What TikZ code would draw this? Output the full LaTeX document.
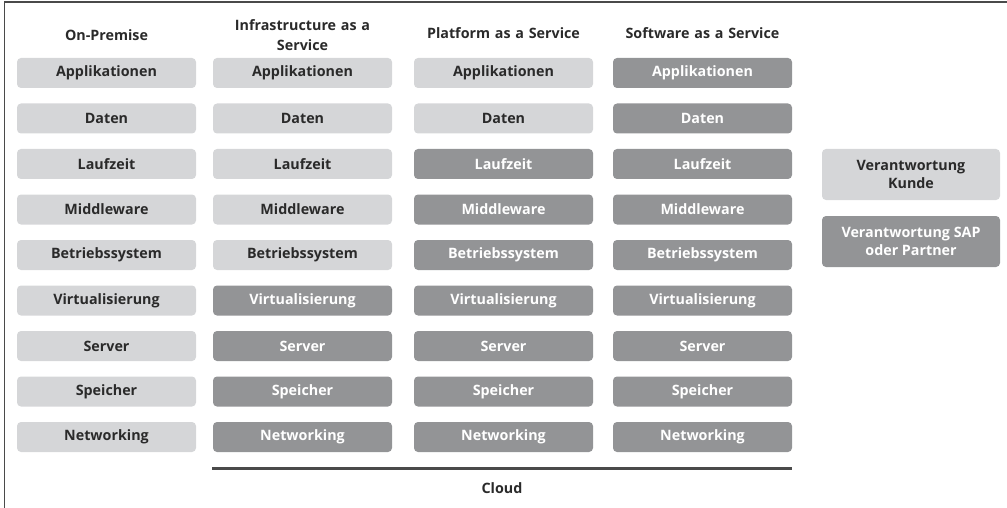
\documentclass[tikz,border=0pt]{standalone}
\usepackage{fontspec}
\setmainfont{Open Sans}
\definecolor{lightbox}{HTML}{D5D6D8}
\definecolor{darkbox}{HTML}{939496}
\definecolor{ink}{HTML}{2A2A2A}
\definecolor{framec}{HTML}{4A4A4A}
\begin{document}
\begin{tikzpicture}[x=1pt,y=-1pt,
  layer/.style={rounded corners=4pt, minimum width=179pt, minimum height=30pt,
    inner sep=0pt, font=\bfseries\fontsize{14.3}{18.5}\selectfont, align=center},
  own/.style={layer, fill=lightbox, text=ink},
  prov/.style={layer, fill=darkbox, text=white},
  head/.style={font=\bfseries\fontsize{14.3}{19.5}\selectfont, text=ink, align=center, text width=190pt}]
  \useasboundingbox (0,0) rectangle (1007,508);
  % cropped frame: top and left edge
  \draw[framec, line width=1.5pt] (4.5,508) -- (4.5,2) -- (1007,2);

  % column headers
  \node[head] (h1) at (106.5,35) {On-Premise};
  \node[head] (h2) at (302.5,35) {Infrastructure as a\\Service};
  \node[head] (h3) at (503.5,33) {Platform as a Service};
  \node[head] (h4) at (702.5,33) {Software as a Service};

  % stacks: column x, number of provider-managed layers from the bottom
  \foreach \col/\cx/\nprov in {1/106.5/0, 2/302.5/4, 3/503.5/7, 4/702.5/9}{
    \foreach \row/\txt in {1/Applikationen, 2/Daten, 3/Laufzeit, 4/Middleware,
        5/Betriebssystem, 6/Virtualisierung, 7/Server, 8/Speicher, 9/Networking}{
      \pgfmathtruncatemacro{\isprov}{(10-\row) <= \nprov ? 1 : 0}
      \ifnum\isprov=1
        \node[prov] (c\col r\row) at (\cx, {73+(\row-1)*45.5}) {\txt};
      \else
        \node[own] (c\col r\row) at (\cx, {73+(\row-1)*45.5}) {\txt};
      \fi
    }
  }

  % cloud bracket
  \coordinate (cl) at (212,468);
  \coordinate (cr) at (792,468);
  \draw[framec, line width=3pt] (cl) -- (cr);
  \node[font=\bfseries\fontsize{14.3}{17}\selectfont, text=ink] (cloud) at (502,488) {Cloud};

  % legend
  \node[own, minimum width=178pt, minimum height=51pt] (lk) at (911,174.5) {Verantwortung\\Kunde};
  \node[prov, minimum width=178pt, minimum height=51pt] (lp) at (911,241.5) {Verantwortung SAP\\oder Partner};
\end{tikzpicture}
\end{document}
